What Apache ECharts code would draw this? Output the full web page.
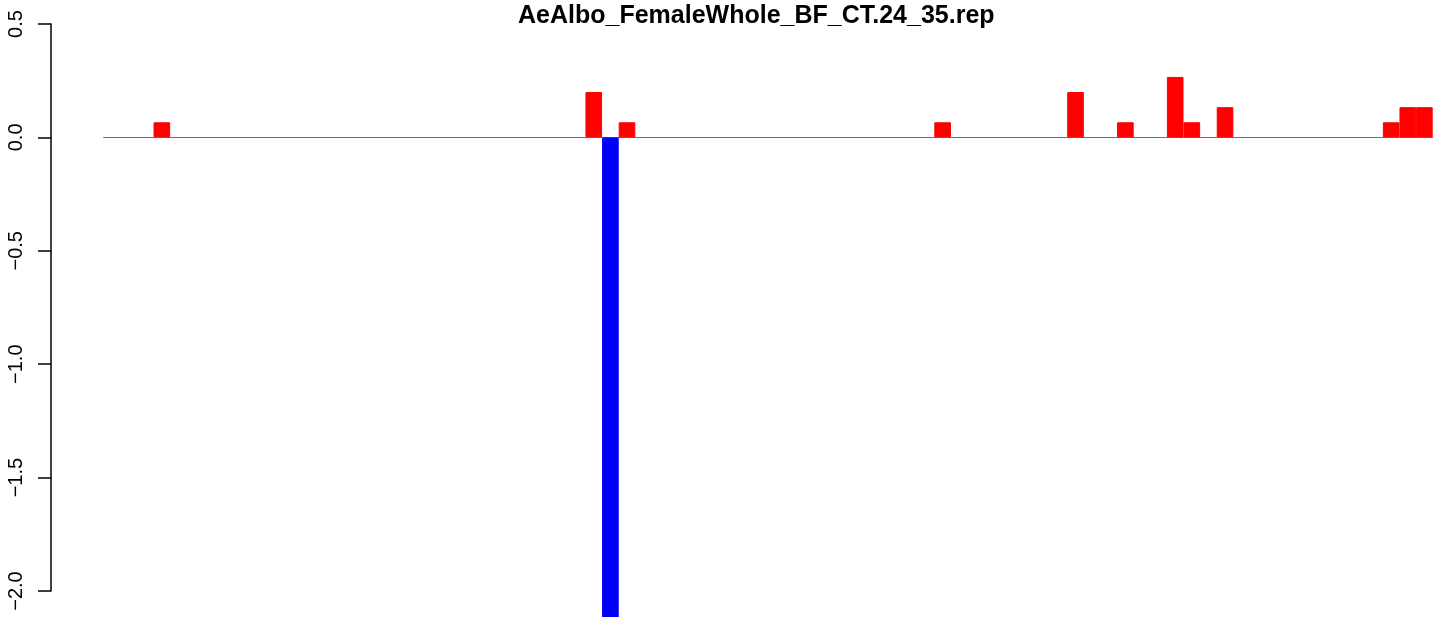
<!DOCTYPE html>
<html>
<head>
<meta charset="utf-8">
<script src="https://cdn.jsdelivr.net/npm/echarts@6/dist/echarts.min.js"></script>
<style>
  html, body { margin: 0; padding: 0; background: #fff; }
  #chart { width: 1449px; height: 617px; }
</style>
</head>
<body>
<div id="chart"></div>
<script>
// bar slots, non-zero positions and values (in steps of 1/15)
var slotCount = 80;
var barSlots  = [3, 29, 30, 31, 50, 58, 61, 64, 65, 67, 77, 78, 79];
var barValues = [0.0667, 0.2, -2.1333, 0.0667, 0.0667, 0.2, 0.0667, 0.2667, 0.0667, 0.1333, 0.0667, 0.1333, 0.1333];
var yTicks = { min: -2, max: 0.5, step: 0.5 };

var categories = [];
var upValues = [];
var downValues = [];
for (var i = 0; i < slotCount; i++) {
    categories.push(String(i + 1));
    upValues.push('-');
    downValues.push('-');
}
for (var k = 0; k < barSlots.length; k++) {
    if (barValues[k] >= 0) upValues[barSlots[k]] = barValues[k];
    else downValues[barSlots[k]] = barValues[k];
}

var chart = echarts.init(document.getElementById('chart'));

var option = {
    backgroundColor: '#fff',
    animation: false,
    title: {
        text: 'AeAlbo_FemaleWhole_BF_CT.24_35.rep',
        left: 518,
        top: 4,
        padding: 0,
        textStyle: {
            fontFamily: 'Liberation Sans, Arial, sans-serif',
            fontWeight: 'bold',
            fontSize: 25,
            color: '#000'
        }
    },
    grid: [
        { left: 103.7, right: 16.3, top: 24, bottom: 0 },   // bars
        { left: 51, width: 10, top: 24, height: 567 }        // axis only
    ],
    xAxis: [
        {
            gridIndex: 0,
            type: 'category',
            data: categories,
            boundaryGap: true,
            axisLine: { onZero: true, lineStyle: { color: '#6e6e6e', width: 1.2 } },
            axisTick: { show: false },
            axisLabel: { show: false },
            splitLine: { show: false }
        },
        { gridIndex: 1, type: 'value', show: false }
    ],
    yAxis: [
        {
            gridIndex: 0,
            type: 'value',
            min: 0.5 - 593 / 226.8,
            max: 0.5,
            show: false
        },
        {
            gridIndex: 1,
            type: 'value',
            min: yTicks.min,
            max: yTicks.max,
            interval: yTicks.step,
            axisLine: { show: true, lineStyle: { color: '#000', width: 1.5 } },
            axisTick: { show: true, length: 13, lineStyle: { color: '#000', width: 1.5 } },
            splitLine: { show: false },
            axisLabel: {
                rotate: 90,
                margin: 25,
                fontFamily: 'Liberation Sans, Arial, sans-serif',
                fontSize: 20,
                color: '#000',
                formatter: function (v) { return v.toFixed(1).replace('-', '\u2212'); }
            }
        }
    ],
    series: [
        {
            type: 'bar',
            xAxisIndex: 0,
            yAxisIndex: 0,
            data: upValues,
            barWidth: '100%',
            barGap: '-100%',
            barCategoryGap: '0%',
            clip: true,
            itemStyle: { color: '#ff0000', borderColor: '#ff0000', borderWidth: 1 }
        },
        {
            type: 'bar',
            xAxisIndex: 0,
            yAxisIndex: 0,
            data: downValues,
            barWidth: '100%',
            barGap: '-100%',
            barCategoryGap: '0%',
            clip: true,
            itemStyle: { color: '#0000ff', borderColor: '#0000ff', borderWidth: 1 }
        }
    ]
};

chart.setOption(option);
window.onresize = function () { chart.resize(); };
</script>
</body>
</html>
